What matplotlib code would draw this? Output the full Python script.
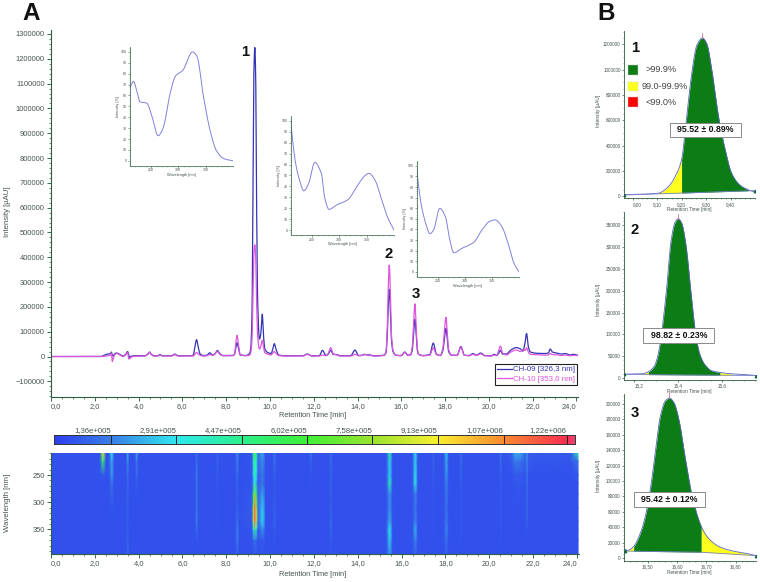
import numpy as np
import matplotlib
matplotlib.use("Agg")
import matplotlib.pyplot as plt
from matplotlib.colors import LinearSegmentedColormap
from matplotlib.patches import Rectangle
from matplotlib.ticker import MultipleLocator

W, H = 760, 582
AXIS_COLOR = "#2e5e3e"
TEXT_COLOR = "#46544a"
plt.rcParams["font.family"] = ["Liberation Sans", "DejaVu Sans"]

# chromatogram
rt_min = [0.0, 2.3, 2.45, 2.6, 2.72, 2.76, 2.8, 2.84, 2.92, 3.0, 3.15, 3.3, 3.42, 3.5, 3.55, 3.6, 3.7, 3.85,
          4.3, 4.42, 4.5, 4.58, 4.7, 4.88, 4.98, 5.08, 5.5, 5.6, 5.66, 5.72, 5.85, 6.4,
          6.5, 6.57, 6.65, 6.72, 6.8, 6.95, 7.12, 7.25, 7.38, 7.48, 7.6, 7.72, 7.85, 8.3,
          8.38, 8.44, 8.5, 8.56, 8.64, 8.9, 9.05, 9.12, 9.18, 9.22, 9.26, 9.31, 9.35, 9.39, 9.44, 9.52, 9.58, 9.65,
          9.7, 9.77, 9.9, 10.05, 10.13, 10.2, 10.28, 10.4, 10.7,
          11.5, 11.7, 11.9, 12.25, 12.4, 12.55, 12.65, 12.77, 12.9, 13.05, 13.2, 13.7, 13.88, 14.05, 14.2, 14.32,
          14.45, 14.55, 14.65, 14.8, 15.1,
          15.22, 15.3, 15.36, 15.4, 15.45, 15.5, 15.55, 15.62, 15.75,
          16.0, 16.16, 16.3, 16.42, 16.5, 16.56, 16.62, 16.68, 16.73, 16.8, 17.0,
          17.3, 17.46, 17.6, 17.78, 17.9, 17.97, 18.04, 18.1, 18.16, 18.3,
          18.55, 18.72, 18.88, 19.1, 19.27, 19.42, 19.63, 19.8, 20.1, 20.25, 20.35,
          20.45, 20.53, 20.62, 20.8, 21.0, 21.25, 21.45, 21.55, 21.65, 21.72, 21.8, 21.9, 22.2,
          22.6, 22.72, 22.8, 22.9, 23.1, 23.3, 23.5, 23.7, 23.85, 24.05]
ch09 = [0, 0, 6000, 10000, 12000, 18000, 5000, 2000, 12000, 14000, 8000, 2000, 10000, 20000, 5000, -3000, 2000, 3000,
        3000, 10000, 18000, 9000, 3000, 3000, 8000, 3000, 3000, 7000, 10000, 6000, 3000, 3000,
        6000, 40000, 68000, 40000, 12000, 4000, 5000, 15000, 6000, 10000, 24000, 10000, 4000, 4000,
        8000, 35000, 55000, 35000, 6000, 4000, 10000, 30000, 170000, 600000, 1120000, 1245000, 1120000, 620000,
        220000, 70000, 90000, 170000,
        90000, 30000, 16000, 12000, 30000, 52000, 28000, 6000, 3000,
        3000, 10000, 3000, 3000, 25000, 5000, 8000, 25000, 8000, 8000, 3000, 4000, 26000, 4000, 5000, 9000,
        5000, 8000, 4000, 3000, 4000,
        6000, 15000, 90000, 200000, 270000, 190000, 70000, 20000, 5000,
        4000, 18000, 5000, 7000, 25000, 90000, 150000, 90000, 25000, 8000, 4000,
        8000, 54000, 10000, 4000, 25000, 75000, 113000, 70000, 20000, 5000,
        5000, 40000, 5000, 4000, 12000, 5000, 14000, 4000, 3000, 9000, 4000,
        14000, 25000, 10000, 10000, 26000, 36000, 30000, 22000, 55000, 93000, 40000, 18000, 13000,
        12000, 15000, 30000, 18000, 14000, 10000, 12000, 6000, 9000, 5000]
ch10 = [0, 0, 1000, 3000, 6000, 14000, -20000, -8000, 8000, 12000, 6000, 0, 8000, 16000, -10000, -8000, -1000, 1000,
        2000, 9000, 17000, 8000, 2000, 2000, 6000, 2000, 2000, 5000, 9000, 4000, 2000, 2000,
        2000, 10000, 16000, 10000, 5000, 2000, 3000, 8000, 4000, 10000, 20000, 8000, 3000, 3000,
        10000, 55000, 85000, 50000, 8000, 3000, 5000, 15000, 70000, 220000, 410000, 450000, 400000, 220000,
        80000, 30000, 40000, 65000,
        40000, 15000, 10000, 6000, 14000, 20000, 12000, 4000, 2000,
        2000, 9000, 2000, 2000, 6000, 3000, 10000, 36000, 10000, 7000, 2000, 2000, 9000, 3000, 4000, 8000,
        4000, 7000, 3000, 2000, 3000,
        5000, 20000, 120000, 270000, 368000, 260000, 90000, 25000, 5000,
        3000, 16000, 4000, 7000, 40000, 130000, 212000, 120000, 35000, 8000, 3000,
        6000, 35000, 8000, 4000, 35000, 105000, 158000, 95000, 28000, 5000,
        5000, 38000, 5000, 3000, 9000, 4000, 11000, 3000, 2000, 6000, 4000,
        25000, 42000, 14000, 6000, 18000, 26000, 20000, 28000, 24000, 35000, 18000, 9000, 7000,
        5000, 7000, 12000, 8000, 7000, 4000, 6000, 3000, 5000, 4000]

# UV spectra of the three peaks
wl_1 = [212, 218, 224, 230, 242, 251, 263, 272, 285, 295, 308, 326, 334, 346, 358, 370, 383, 400]
uv_1 = [68, 73, 64, 54, 53, 42, 23, 30, 62, 78, 83, 100, 96, 59, 28, 9, 2, 0]
wl_2 = [211, 214, 220, 227, 235, 244, 255, 267, 273, 281, 295, 316, 332, 347, 354, 365, 378, 388, 400]
uv_2 = [100, 84, 61, 46, 36, 43, 62, 52, 30, 19, 23, 28, 40, 50, 52, 46, 27, 12, 0]
wl_3 = [211, 214, 220, 228, 236, 243, 254, 265, 271, 280, 294, 317, 331, 347, 356, 368, 381, 390, 400]
uv_3 = [100, 85, 63, 46, 36, 40, 60, 51, 34, 18, 22, 28, 39, 48, 49, 43, 25, 9, 0]

# isoplot, kAU per column, one value per wavelength in map_wl
map_wl = [209, 225, 250, 265, 285, 310, 335, 350, 370, 395]
bg = [42, 42, 40, 40, 40, 40, 40, 40, 40, 40]
map_rt = [0.0, 2.22, 2.37, 2.52, 2.64, 2.77, 2.9, 3.42, 3.5, 3.58, 3.82, 3.91, 4.0, 6.55, 6.65, 6.75, 7.5, 7.6, 7.7,
          8.4, 8.5, 8.6, 9.16, 9.26, 9.31, 9.36, 9.46, 9.65, 9.8, 10.1, 10.2, 10.3, 11.78, 11.86, 11.95, 12.68, 12.77,
          12.87, 15.3, 15.45, 15.6, 16.49, 16.62, 16.75, 17.37, 17.45, 17.53, 17.92, 18.04, 18.16, 18.64, 18.72, 18.8,
          20.44, 20.52, 20.62, 21.0, 21.2, 21.45, 21.65, 21.72, 21.8, 22.1, 23.7, 24.05]
map_kau = [
    bg,
    bg,
    [850, 500, 60, 40, 40, 40, 40, 40, 40, 40],
    bg,
    bg,
    [280, 200, 170, 110, 80, 50, 40, 40, 40, 40],
    bg,
    bg,
    [220, 160, 100, 85, 80, 80, 70, 70, 80, 90],
    bg,
    bg,
    [210, 120, 100, 60, 50, 40, 40, 40, 40, 40],
    bg,
    bg,
    [95, 95, 125, 115, 115, 115, 125, 95, 50, 40],
    bg,
    bg,
    [85, 70, 60, 55, 50, 50, 50, 45, 40, 40],
    bg,
    bg,
    [160, 135, 105, 80, 70, 70, 100, 145, 130, 75],
    bg,
    [50, 45, 45, 45, 50, 60, 60, 45, 40, 40],
    [430, 330, 280, 210, 500, 800, 860, 330, 90, 45],
    [620, 480, 400, 300, 720, 1150, 1240, 480, 110, 50],
    [430, 330, 280, 210, 500, 800, 860, 330, 90, 45],
    [90, 80, 70, 65, 70, 80, 80, 50, 40, 40],
    [190, 165, 125, 120, 190, 250, 270, 170, 65, 45],
    bg,
    bg,
    [115, 105, 80, 60, 60, 70, 90, 60, 50, 40],
    bg,
    bg,
    [130, 80, 50, 45, 40, 40, 40, 40, 40, 40],
    bg,
    bg,
    [105, 95, 85, 75, 70, 70, 95, 95, 65, 50],
    bg,
    bg,
    [430, 260, 250, 370, 170, 160, 200, 300, 250, 170],
    bg,
    bg,
    [270, 250, 280, 310, 140, 125, 140, 215, 150, 70],
    bg,
    bg,
    [85, 80, 70, 60, 50, 50, 50, 50, 45, 40],
    bg,
    bg,
    [240, 200, 170, 145, 125, 110, 125, 155, 105, 70],
    bg,
    bg,
    [115, 105, 85, 70, 60, 60, 60, 60, 50, 40],
    bg,
    bg,
    [125, 95, 70, 60, 55, 55, 55, 55, 50, 40],
    bg,
    [70, 55, 40, 40, 40, 40, 40, 40, 40, 40],
    [210, 130, 60, 50, 45, 40, 40, 40, 40, 40],
    [190, 110, 55, 50, 45, 40, 40, 40, 40, 40],
    [80, 65, 45, 40, 40, 40, 40, 40, 40, 40],
    [170, 150, 120, 105, 95, 95, 85, 50, 40, 40],
    [70, 55, 42, 40, 40, 40, 40, 40, 40, 40],
    [60, 50, 40, 40, 40, 40, 40, 40, 40, 40],
    [60, 50, 40, 40, 40, 40, 40, 40, 40, 40],
    [380, 120, 50, 40, 40, 40, 40, 40, 40, 40],
]

# colour bar
bar_levels = [136000, 291000, 447000, 602000, 758000, 913000, 1070000, 1220000]
bar_labels = ["1,36e+005", "2,91e+005", "4,47e+005", "6,02e+005", "7,58e+005", "9,13e+005", "1,07e+006", "1,22e+006"]
bar_max = 1240000
bar_colors = ["#2f3fee", "#3a7fe8", "#2fe9ee", "#2bf08c", "#40f038", "#98e430", "#f8f030", "#f88c30", "#f83050", "#f04070"]

# peak purity panels
p1_rt = [8.965, 9.03, 9.104, 9.145, 9.18, 9.2, 9.22, 9.241, 9.262, 9.285, 9.303, 9.323, 9.35, 9.378, 9.405, 9.44, 9.473, 9.5]
p1_int = [13000, 16000, 24000, 73000, 180000, 289000, 612000, 963000, 1192000, 1251000, 1205000, 1003000, 639000,
          370000, 180000, 86000, 51000, 32000]
p1_base_rt = [8.965, 9.5]
p1_base = [10000, 45000]
p1_yellow = [(9.104, 9.2)]
p1_green = [(9.2, 9.473)]

p2_rt = [15.155, 15.233, 15.264, 15.291, 15.309, 15.324, 15.347, 15.367, 15.385, 15.4, 15.415, 15.435, 15.458, 15.479,
         15.498, 15.521, 15.552, 15.589, 15.642, 15.718, 15.752]
p2_int = [8600, 9400, 14100, 26700, 54200, 101300, 203300, 313200, 356400, 365800, 356400, 305400, 195500, 101300,
          54200, 30600, 16500, 12600, 9400, 7100, 5500]
p2_base_rt = [15.155, 15.752]
p2_base = [8000, 5500]
p2_yellow = [(15.233, 15.264), (15.589, 15.642)]
p2_green = [(15.264, 15.589)]

p3_rt = [16.422, 16.43, 16.452, 16.475, 16.492, 16.509, 16.526, 16.543, 16.56, 16.574, 16.589, 16.606, 16.628, 16.651,
         16.682, 16.708, 16.742, 16.788, 16.833, 16.869]
p3_int = [11500, 9700, 15000, 32600, 54600, 89800, 138200, 184400, 204200, 207700, 202000, 180000, 129400, 81000,
          41400, 25100, 15000, 9200, 6200, 3100]
p3_base_rt = [16.422, 16.682, 16.869]
p3_base = [9000, 7500, 3100]
p3_yellow = [(16.43, 16.452), (16.682, 16.85)]
p3_green = [(16.452, 16.682)]

purity_colors = ["#0b7d14", "#ffff1e", "#ff0000"]
purity_labels = [">99.9%", "99.0-99.9%", "<99.0%"]


def smooth_xy(x, y, steps=10):
    # rounded line through the read points, no overshoot
    x = np.asarray(x, dtype=float)
    y = np.asarray(y, dtype=float)
    h = np.diff(x)
    s = np.diff(y) / h
    m = np.zeros_like(y)
    m[0], m[-1] = s[0], s[-1]
    same = s[:-1] * s[1:] > 0
    m[1:-1][same] = 2 * s[:-1][same] * s[1:][same] / (s[:-1][same] + s[1:][same])
    t = np.linspace(0, 1, steps, endpoint=False)[None, :]
    h2 = h[:, None]
    ys = ((2 * t**3 - 3 * t**2 + 1) * y[:-1, None] + (t**3 - 2 * t**2 + t) * h2 * m[:-1, None]
          + (-2 * t**3 + 3 * t**2) * y[1:, None] + (t**3 - t**2) * h2 * m[1:, None])
    xs = x[:-1, None] + t * h2
    return np.append(xs.ravel(), x[-1]), np.append(ys.ravel(), y[-1])


def px_axes(fig, left, top, right, bottom):
    # axes placed by picture pixels
    ax = fig.add_axes([left / W, 1 - bottom / H, (right - left) / W, (bottom - top) / H])
    ax.patch.set_alpha(0)
    ax.spines["top"].set_visible(False)
    ax.spines["right"].set_visible(False)
    return ax


def px_text(fig, x, y, s, **kwargs):
    kwargs.setdefault("ha", "center")
    kwargs.setdefault("va", "center")
    return fig.text(x / W, 1 - y / H, s, **kwargs)


def style_axis(ax, size, lw=0.8, major=3.0, minor=1.5):
    for side in ["left", "bottom"]:
        ax.spines[side].set_color(AXIS_COLOR)
        ax.spines[side].set_linewidth(lw)
    ax.tick_params(which="major", length=major, width=lw * 0.8, color=AXIS_COLOR,
                   labelsize=size, labelcolor=TEXT_COLOR, pad=1.5)
    ax.tick_params(which="minor", length=minor, width=lw * 0.6, color=AXIS_COLOR)


def comma_ticks(ax, ticks, fmt, clamp_first=True, clamp_last=False):
    ax.set_xticks(ticks)
    labels = ax.set_xticklabels([fmt.format(t).replace(".", ",") for t in ticks])
    if clamp_first:
        labels[0].set_ha("left")
    if clamp_last:
        labels[-1].set_ha("right")


def draw_spectrum(fig, rect, wl, uv):
    ax = px_axes(fig, *rect)
    ax.plot(*smooth_xy(wl, uv), color="#8080dc", lw=0.7)
    ax.set_xlim(211.5, 400)
    ax.set_ylim(-4.5, 104.5)
    ax.set_yticks(range(0, 101, 10))
    ax.set_xticks([250, 300, 350])
    ax.xaxis.set_minor_locator(MultipleLocator(10))
    ax.yaxis.set_minor_locator(MultipleLocator(2))
    style_axis(ax, 2.6, lw=0.5, major=1.2, minor=0.6)
    ax.tick_params(pad=0.8)
    ax.set_xlabel("Wavelength [nm]", fontsize=2.8, color=TEXT_COLOR, labelpad=0.3)
    ax.set_ylabel("Intensity [%]", fontsize=2.8, color=TEXT_COLOR, labelpad=0.8)


def draw_purity(fig, rect, ylim, xlim, rt, inten, base_rt, base, yellow, green, xticks, fmt, minor_x, yticks, minor_y,
                clamp_first, label_y):
    ax = px_axes(fig, *rect)
    line_x, line_y = smooth_xy(rt, inten)
    for regions, color in [(yellow, purity_colors[1]), (green, purity_colors[0])]:
        for start, end in regions:
            xs = np.linspace(start, end, 80)
            ax.fill_between(xs, np.interp(xs, base_rt, base), np.interp(xs, line_x, line_y), color=color, lw=0)
    ax.plot(line_x, line_y, color="#5a64c0", lw=0.6)
    ax.plot(base_rt, base, color="#7a80c8", lw=0.6)
    ax.plot([rt[0], rt[-1]], [base[0], base[-1]], ls="none", marker="^", ms=1.8, color="#0b6b3a")
    top = int(np.argmax(inten))
    ax.plot([rt[top], rt[top]], [inten[top], inten[top] * 1.03], color="#d070a0", lw=0.6, clip_on=False)
    ax.set_xlim(*xlim)
    ax.set_ylim(*ylim)
    ax.set_yticks(yticks)
    ax.ticklabel_format(axis="y", style="plain", useOffset=False)
    ax.yaxis.set_minor_locator(MultipleLocator(minor_y))
    ax.xaxis.set_minor_locator(MultipleLocator(minor_x))
    style_axis(ax, 3.3, lw=0.6, major=1.6, minor=0.8)
    comma_ticks(ax, xticks, fmt, clamp_first=clamp_first)
    ax.tick_params(pad=1)
    px_text(fig, 689, rect[3] + 11.5, "Retention Time [min]", fontsize=3.4, color=TEXT_COLOR)
    px_text(fig, 598.3, label_y, "Intensity [µAU]", fontsize=3.5, color=TEXT_COLOR, rotation=90)
    return ax


def value_box(fig, left, top, right, bottom, s):
    fig.add_artist(Rectangle((left / W, 1 - bottom / H), (right - left) / W, (bottom - top) / H,
                             transform=fig.transFigure, fc="white", ec="#8a8a8a", lw=0.7, zorder=5))
    px_text(fig, (left + right) / 2, (top + bottom) / 2, s, fontsize=6.3, fontweight="bold", color="#111111", zorder=6)


def main():
    fig = plt.figure(figsize=(W / 100, H / 100), dpi=100)

    # chromatogram
    ax = px_axes(fig, 51, 30, 578, 396.7)
    ax.plot(*smooth_xy(rt_min, ch09), color="#3434b4", lw=0.9, label="CH-09 [326,3 nm]")
    ax.plot(*smooth_xy(rt_min, ch10), color="#dc55dc", lw=0.9, label="CH-10 [353,0 nm]")
    ax.set_xlim(0, 24.07)
    ax.set_ylim(-162000, 1316000)
    ax.set_yticks(range(-100000, 1300001, 100000))
    ax.ticklabel_format(axis="y", style="plain", useOffset=False)
    ax.yaxis.set_minor_locator(MultipleLocator(20000))
    ax.xaxis.set_minor_locator(MultipleLocator(0.5))
    style_axis(ax, 5.4)
    comma_ticks(ax, np.arange(0, 25, 2.0), "{:.1f}", clamp_last=True)
    px_text(fig, 313, 415.5, "Retention Time [min]", fontsize=5.3, color=TEXT_COLOR)
    px_text(fig, 8, 212, "Intensity [µAU]", fontsize=5.6, color=TEXT_COLOR, rotation=90)
    leg = ax.legend(loc="lower right", bbox_to_anchor=(0.998, 0.032), borderaxespad=0, frameon=True, fancybox=False,
                    edgecolor="#222222", framealpha=1, fontsize=5.7, labelcolor="linecolor", handlelength=1.9,
                    handletextpad=0.1, borderpad=0.25, labelspacing=0.25)
    leg.get_frame().set_linewidth(0.8)

    draw_spectrum(fig, (130, 47, 233, 165.7), wl_1, uv_1)
    draw_spectrum(fig, (291, 116, 394, 235), wl_2, uv_2)
    draw_spectrum(fig, (416.7, 161, 519, 276.7), wl_3, uv_3)

    # colour bar above the isoplot, stops sit on the labelled levels
    stops = [0] + [level / bar_max for level in bar_levels] + [1]
    cmap = LinearSegmentedColormap.from_list("pda", list(zip(stops, bar_colors)))
    bar = px_axes(fig, 54, 435, 575, 444)
    bar.imshow(np.linspace(0, bar_max, 512)[None, :], cmap=cmap, vmin=0, vmax=bar_max, aspect="auto",
               extent=[0, bar_max, 0, 1])
    for level, label in zip(bar_levels, bar_labels):
        bar.axvline(level, color="#222222", lw=0.7)
        bar.text(level, 1.12, label, ha="right", va="bottom", fontsize=5.6, color=TEXT_COLOR,
                 transform=bar.get_xaxis_transform())
    bar.set_xticks([])
    bar.set_yticks([])
    for side in bar.spines.values():
        side.set_visible(True)
        side.set_color("#333333")
        side.set_linewidth(0.7)

    # isoplot
    iso = px_axes(fig, 51, 452.7, 578.5, 554)
    grid_rt, grid_wl = np.meshgrid(map_rt, map_wl)
    iso.pcolormesh(grid_rt, grid_wl, np.array(map_kau).T * 1000, cmap=cmap, vmin=0, vmax=bar_max, shading="gouraud")
    iso.set_xlim(0, 24.07)
    iso.set_ylim(395, 209)
    iso.set_yticks([250, 300, 350])
    iso.yaxis.set_minor_locator(MultipleLocator(10))
    iso.xaxis.set_minor_locator(MultipleLocator(0.5))
    style_axis(iso, 5.4)
    comma_ticks(iso, np.arange(0, 25, 2.0), "{:.1f}", clamp_last=True)
    px_text(fig, 313, 574, "Retention Time [min]", fontsize=5.3, color=TEXT_COLOR)
    px_text(fig, 8, 503, "Wavelength [nm]", fontsize=5.6, color=TEXT_COLOR, rotation=90)

    # purity panels
    draw_purity(fig, (624.3, 30.7, 755, 198.3), (-16000, 1308000), (8.966, 9.5), p1_rt, p1_int, p1_base_rt, p1_base,
                p1_yellow, p1_green, [9.0, 9.1, 9.2, 9.3, 9.4], "{:.2f}", 0.02, range(0, 1200001, 200000), 50000,
                True, 111)
    draw_purity(fig, (624.3, 212, 755.7, 379.7), (-4100, 381000), (15.155, 15.752), p2_rt, p2_int, p2_base_rt, p2_base,
                p2_yellow, p2_green, [15.2, 15.4, 15.6], "{:.1f}", 0.05, range(0, 350001, 50000), 10000,
                True, 300)
    draw_purity(fig, (624.3, 394, 755.7, 561), (-3900, 213000), (16.42, 16.868), p3_rt, p3_int, p3_base_rt, p3_base,
                p3_yellow, p3_green, [16.5, 16.6, 16.7, 16.8], "{:.2f}", 0.02, range(0, 200001, 20000), 5000,
                False, 476)

    # legend of panel B1
    for color, label, top, bottom, text_x in zip(purity_colors, purity_labels, [65, 81.7, 97.3], [75, 90.7, 107.3],
                                                 [645, 641.7, 645]):
        fig.add_artist(Rectangle((628.3 / W, 1 - bottom / H), 9.4 / W, (bottom - top) / H,
                                 transform=fig.transFigure, fc=color, ec="#cccccc", lw=0.3))
        px_text(fig, text_x, (top + bottom) / 2, label, ha="left", fontsize=6.6, color="#444444")

    value_box(fig, 670, 122.7, 740.7, 137.3, "95.52 ± 0.89%")
    value_box(fig, 643.3, 328.3, 714.3, 343.3, "98.82 ± 0.23%")
    value_box(fig, 634.3, 492.3, 705, 507.3, "95.42 ± 0.12%")

    # panel letters and peak numbers
    px_text(fig, 31, 13, "A", fontsize=17.5, fontweight="bold", color="#111111")
    px_text(fig, 605.7, 13, "B", fontsize=17.5, fontweight="bold", color="#111111")
    for x, y, s in [(245, 52, "1"), (389, 254, "2"), (415.7, 293.5, "3"), (635, 47.7, "1"), (635, 230, "2"), (635, 413, "3")]:
        px_text(fig, x, y, s, fontsize=10.7, fontweight="bold", color="#111111")

    fig.savefig("out.png", dpi=100)


if __name__ == "__main__":
    main()
